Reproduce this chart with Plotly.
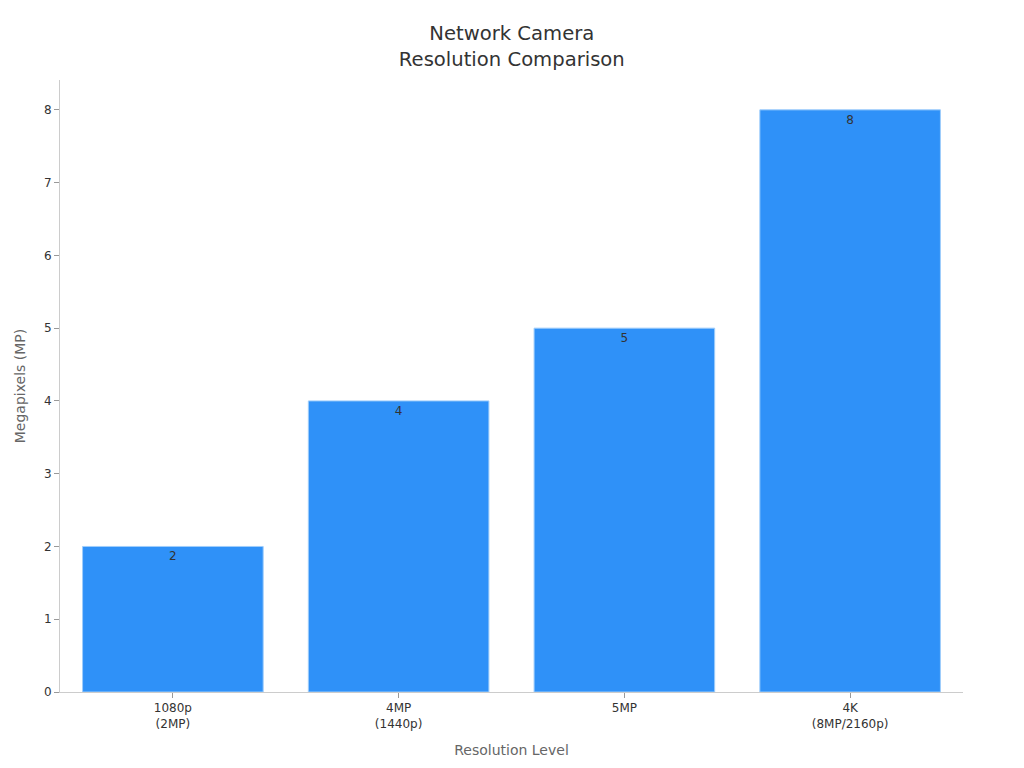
import plotly.graph_objects as go

# chart data
resolutions = ["1080p<br>(2MP)", "4MP<br>(1440p)", "5MP", "4K<br>(8MP/2160p)"]
megapixels = [2, 4, 5, 8]

fig = go.Figure(
    go.Bar(
        x=resolutions,
        y=megapixels,
        text=megapixels,
        textposition="inside",
        insidetextanchor="end",
        textfont=dict(color="#333333", size=12),
        marker=dict(color="#2f91f8", line=dict(color="#9fcdfb", width=1)),
    )
)

fig.update_layout(
    title=dict(
        text="Network Camera<br>Resolution Comparison",
        x=0.492,
        xanchor="center",
        y=0.958,
        font=dict(size=19.6, color="#333333"),
    ),
    font=dict(family="DejaVu Sans", size=12, color="#333333"),
    paper_bgcolor="white",
    plot_bgcolor="white",
    width=1024,
    height=768,
    margin=dict(l=52, r=69, t=72, b=84),
    bargap=0.2,
    showlegend=False,
)

fig.update_xaxes(
    title=dict(text="Resolution Level", font=dict(size=14, color="#666666")),
    showline=True,
    linecolor="#cccccc",
    ticks="outside",
    tickcolor="#999999",
    ticklen=5,
    showgrid=False,
)
fig.update_yaxes(
    title=dict(text="Megapixels (MP)", font=dict(size=14, color="#666666")),
    range=[0, 8.41],
    dtick=1,
    showline=True,
    linecolor="#cccccc",
    ticks="outside",
    tickcolor="#999999",
    ticklen=5,
    showgrid=False,
    zeroline=False,
)

fig.write_html("out.html")
